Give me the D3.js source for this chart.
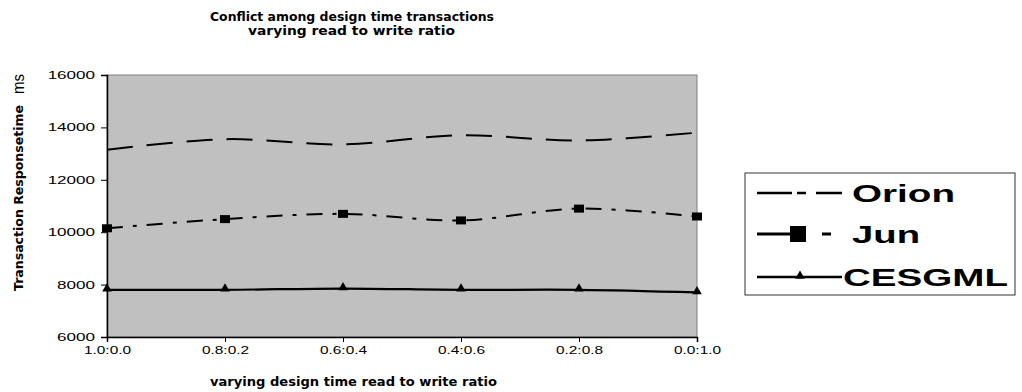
<!DOCTYPE html>
<html><head><meta charset="utf-8">
<script src="https://cdn.jsdelivr.net/npm/d3@7"></script>
<style>body{margin:0;background:#fff}svg{display:block}text{font-family:"Liberation Sans",Arial,sans-serif}</style>
</head><body>
<svg id="c" width="1022" height="392"></svg>
<script>
const categories = ["1.0:0.0","0.8:0.2","0.6:0.4","0.4:0.6","0.2:0.8","0.0:1.0"];
const orion  = [13150,13550,13350,13700,13500,13800];
const jun    = [10150,10500,10700,10450,10900,10600];
const cesgml = [7800,7800,7850,7800,7800,7700];
const yTicks = [6000,8000,10000,12000,14000,16000];
const seriesNames = ["Orion","Jun","CESGML"];

const svg = d3.select("#c");
const L=107,R=697,T=75,B=337, sx=1.55;
const x = d3.scalePoint().domain(categories).range([L,R]);
const y = d3.scaleLinear().domain([6000,16000]).range([B,T]);

svg.append("rect").attr("x",L).attr("y",T).attr("width",R-L).attr("height",B-T)
  .attr("fill","#c0c0c0").attr("stroke","#808080").attr("stroke-width",1);

const ya = svg.append("g").attr("transform",`translate(${L},0)`)
  .call(d3.axisLeft(y).tickValues(yTicks).tickSize(6).tickFormat(d3.format("d")));
ya.selectAll("text").attr("x",0).attr("transform","translate(-12,0) scale("+sx+",1)")
  .attr("font-size",11).attr("fill","#000");
const xa = svg.append("g").attr("transform",`translate(0,${B})`)
  .call(d3.axisBottom(x).tickSize(5).tickSizeOuter(5));
xa.selectAll("text").attr("transform","scale(1.4,1)").attr("font-size",11).attr("fill","#000").attr("y",9);
[ya,xa].forEach(a=>{a.select(".domain").attr("stroke","#000").attr("stroke-width",1.5);a.selectAll(".tick line").attr("stroke","#000");});

const line = d3.line().x((d,i)=>x(categories[i])).y(d=>y(d)).curve(d3.curveCatmullRom.alpha(0.5));
svg.append("path").datum(orion).attr("d",line).attr("fill","none").attr("stroke","#000")
  .attr("stroke-width",2).attr("stroke-dasharray","26,14");
svg.append("path").datum(jun).attr("d",line).attr("fill","none").attr("stroke","#000")
  .attr("stroke-width",2).attr("stroke-dasharray","16,10,4,10");
svg.append("path").datum(cesgml).attr("d",line).attr("fill","none").attr("stroke","#000")
  .attr("stroke-width",2.2);
svg.selectAll(".sq").data(jun).join("rect").attr("x",(d,i)=>x(categories[i])-5).attr("y",d=>y(d)-4)
  .attr("width",10).attr("height",8).attr("fill","#000");
const tri = d3.symbol().type(d3.symbolTriangle).size(40);
svg.selectAll(".tr").data(cesgml).join("path").attr("d",tri)
  .attr("transform",(d,i)=>`translate(${x(categories[i])},${y(d)-1})`).attr("fill","#000");

function txt(s,xx,yy,size,len,weight,family){
  const t = svg.append("text").attr("x",xx).attr("y",yy).attr("font-size",size)
    .attr("font-weight",weight||"bold")
    .attr("textLength",len).attr("lengthAdjust","spacingAndGlyphs").text(s);
  if(family) t.style("font-family",family);
  return t;
}
const heavy = '"DejaVu Sans",sans-serif';
txt("Conflict among design time transactions",210,21,12,284,"bold",heavy);
txt("varying read to write ratio",248,35,12,207,"bold",heavy);
txt("varying design time read to write ratio",210,386,12,287,"bold",heavy);
svg.append("text").attr("transform","translate(23,291) rotate(-90)").attr("font-size",12)
  .attr("font-weight","bold").style("font-family",heavy).attr("textLength",186).attr("lengthAdjust","spacingAndGlyphs").text("Transaction Responsetime");
svg.append("text").attr("transform","translate(24,94) rotate(-90)").attr("font-size",16)
  .attr("textLength",20).attr("lengthAdjust","spacingAndGlyphs").text("ms");

// legend
svg.append("rect").attr("x",745).attr("y",173).attr("width",270).attr("height",122)
  .attr("fill","#fff").attr("stroke","#333").attr("stroke-width",1);
const ly=[193,234,277];
svg.append("line").attr("x1",757).attr("x2",842).attr("y1",ly[0]).attr("y2",ly[0])
  .attr("stroke","#000").attr("stroke-width",2.5).attr("stroke-dasharray","35,5,9,10,26");
svg.append("line").attr("x1",757).attr("x2",798).attr("y1",ly[1]).attr("y2",ly[1]).attr("stroke","#000").attr("stroke-width",3);
svg.append("rect").attr("x",790).attr("y",ly[1]-8).attr("width",16).attr("height",16).attr("fill","#000");
svg.append("line").attr("x1",822).attr("x2",831).attr("y1",ly[1]).attr("y2",ly[1]).attr("stroke","#000").attr("stroke-width",3);
svg.append("line").attr("x1",757).attr("x2",842).attr("y1",ly[2]).attr("y2",ly[2]).attr("stroke","#000").attr("stroke-width",2.5);
svg.append("path").attr("d",d3.symbol().type(d3.symbolTriangle).size(40)).attr("transform",`translate(800,${ly[2]-1})`).attr("fill","#000");
const lx=[852,852,843], lw=[103,68,165];
seriesNames.forEach((n,i)=>txt(n,lx[i],ly[i]+9,24,lw[i]));
</script>
</body></html>
